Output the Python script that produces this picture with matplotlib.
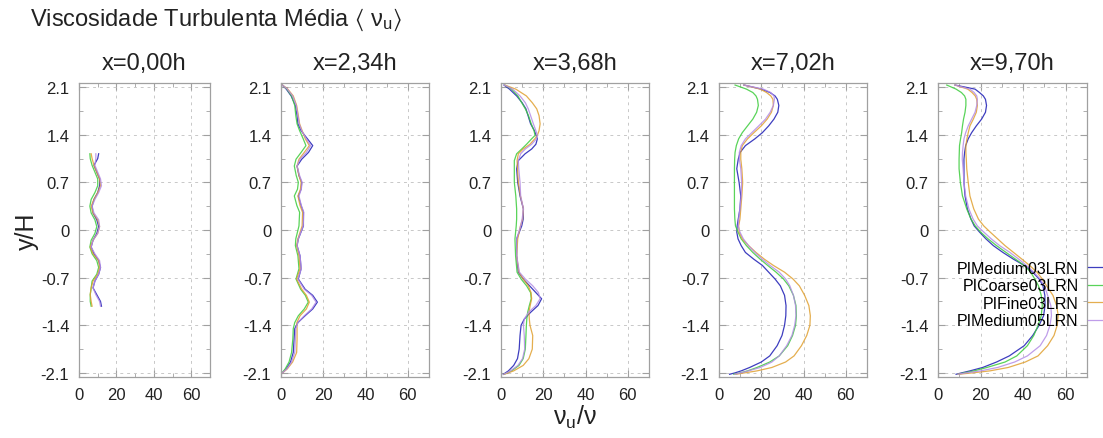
import matplotlib.pyplot as plt
from matplotlib.ticker import MultipleLocator

plt.rcParams["font.family"] = ["Liberation Sans", "DejaVu Sans"]
plt.rcParams["mathtext.fontset"] = "custom"
plt.rcParams["mathtext.rm"] = "Liberation Sans"
plt.rcParams["mathtext.it"] = "Liberation Sans"
plt.rcParams["mathtext.default"] = "regular"

# series names and colours
series = ["PIMedium03LRN", "PICoarse03LRN", "PIFine03LRN", "PIMedium05LRN"]
colors = ["#1c1cb4", "#3ccc3c", "#e0a030", "#b48ce6"]
titles = ["x=0,00h", "x=2,34h", "x=3,68h", "x=7,02h", "x=9,70h"]

# x = 0,00h
y1 = [1.12, 1.05, 0.95, 0.85, 0.75, 0.65, 0.55, 0.45, 0.35, 0.25, 0.15, 0.05,
      -0.05, -0.15, -0.25, -0.35, -0.45, -0.55, -0.65, -0.75, -0.85, -0.95, -1.05, -1.12]
medium03_1 = [10.5, 10.0, 8.0, 9.5, 11.0, 11.0, 10.0, 8.0, 7.0, 7.5, 9.5, 10.5,
              9.5, 7.5, 6.5, 8.0, 10.5, 11.5, 10.5, 8.5, 7.5, 9.5, 11.5, 12.0]
coarse03_1 = [5.8, 6.0, 7.0, 8.5, 10.0, 10.0, 8.5, 6.5, 5.8, 6.5, 8.5, 9.5,
              8.5, 6.5, 5.8, 7.0, 9.5, 10.5, 9.5, 7.0, 6.5, 6.0, 6.0, 6.5]
fine03_1 = [6.5, 7.0, 8.0, 9.5, 11.0, 11.5, 10.0, 8.0, 6.5, 7.5, 10.0, 11.0,
            10.0, 7.5, 6.0, 7.5, 10.5, 11.0, 10.0, 7.5, 6.5, 6.0, 6.5, 7.0]
medium05_1 = [9.0, 9.0, 8.5, 10.0, 11.5, 12.0, 10.5, 8.5, 7.0, 8.0, 10.5, 11.0,
              10.0, 7.5, 6.5, 8.5, 11.0, 11.5, 10.5, 8.5, 7.5, 9.0, 11.0, 11.5]

# x = 2,34h
y2 = [2.14, 2.07, 1.97, 1.83, 1.68, 1.56, 1.46, 1.34, 1.24, 1.14, 1.04, 0.94,
      0.80, 0.70, 0.60, 0.50, 0.36, 0.26, 0.06, -0.13, -0.23, -0.38, -0.57, -0.72,
      -0.87, -0.96, -1.06, -1.16, -1.26, -1.36, -1.45, -1.60, -1.80, -1.94, -2.04, -2.11]
medium03_2 = [0.3, 2.5, 4.8, 6.8, 7.6, 8.0, 9.5, 12.5, 15.0, 13.0, 9.8, 7.6,
              8.5, 9.8, 9.5, 8.2, 9.5, 10.6, 10.6, 8.2, 7.6, 9.0, 9.5, 8.2,
              11.4, 15.0, 17.2, 15.0, 11.4, 8.0, 6.5, 6.2, 5.8, 4.5, 2.5, 0.3]
coarse03_2 = [0.3, 2.8, 5.0, 6.5, 7.0, 7.6, 8.8, 10.5, 11.8, 9.5, 7.1, 6.3,
              7.2, 8.2, 7.8, 6.3, 7.5, 8.8, 8.5, 7.0, 6.8, 8.0, 8.5, 7.1,
              9.3, 11.5, 12.9, 11.0, 8.2, 6.5, 5.8, 5.6, 5.0, 3.8, 2.0, 0.3]
fine03_2 = [0.3, 3.2, 5.8, 7.4, 8.2, 8.8, 10.0, 11.5, 13.4, 11.0, 8.5, 7.6,
            8.5, 9.5, 9.2, 8.0, 9.0, 10.2, 10.0, 8.0, 7.4, 8.5, 9.0, 7.4,
            9.8, 12.0, 13.4, 12.0, 9.0, 7.5, 7.6, 7.6, 7.4, 5.5, 3.0, 0.3]
medium05_2 = [0.3, 3.0, 5.5, 7.2, 8.0, 8.6, 9.8, 12.0, 14.0, 12.0, 9.0, 7.6,
              8.8, 10.0, 9.6, 8.5, 9.6, 10.8, 10.5, 8.2, 7.6, 9.0, 9.6, 8.0,
              11.0, 14.5, 16.6, 14.5, 11.0, 8.0, 7.0, 6.8, 6.5, 5.0, 2.8, 0.3]

# x = 3,68h
y3 = [2.13, 2.07, 1.97, 1.87, 1.78, 1.68, 1.56, 1.46, 1.39, 1.34, 1.26, 1.19,
      1.12, 1.02, 0.90, 0.70, 0.50, 0.31, 0.16, 0.06, -0.13, -0.38, -0.62, -0.72,
      -0.82, -0.92, -1.01, -1.11, -1.21, -1.31, -1.40, -1.55, -1.75, -1.89, -1.99,
      -2.07, -2.12]
medium03_3 = [1.4, 4.0, 7.4, 10.0, 11.8, 12.8, 14.0, 15.8, 16.6, 17.2, 16.5, 14.5,
              11.4, 8.2, 7.4, 7.9, 9.0, 10.6, 10.5, 9.8, 7.4, 7.4, 8.2, 10.5,
              13.5, 16.5, 19.2, 17.5, 14.0, 11.0, 9.5, 9.0, 8.6, 7.8, 6.0, 3.5, 1.1]
coarse03_3 = [1.8, 5.0, 8.0, 9.8, 11.5, 13.0, 14.3, 15.6, 16.1, 14.5, 12.1, 9.8,
              7.4, 6.3, 6.3, 6.3, 7.0, 7.4, 7.4, 7.2, 6.6, 6.9, 7.6, 9.5,
              12.1, 14.0, 14.3, 13.4, 12.6, 12.2, 12.0, 11.8, 11.5, 10.5, 8.5, 5.0, 1.4]
fine03_3 = [1.8, 7.0, 12.0, 14.8, 16.9, 18.0, 18.5, 18.0, 17.2, 16.0, 13.7, 10.5,
            8.2, 7.6, 7.8, 8.2, 9.2, 10.6, 10.2, 9.2, 7.9, 7.4, 8.5, 10.5,
            12.9, 14.2, 14.5, 13.8, 13.2, 13.4, 13.7, 15.0, 14.8, 13.2, 10.5, 6.0, 1.5]
medium05_3 = [1.6, 5.5, 9.0, 11.5, 12.9, 14.0, 15.3, 16.5, 17.2, 16.8, 14.5, 11.5,
              9.3, 8.2, 8.4, 9.0, 9.3, 10.6, 10.0, 9.3, 7.4, 7.4, 8.7, 11.5,
              15.0, 17.7, 18.5, 16.5, 13.0, 11.0, 10.6, 11.0, 11.2, 10.2, 8.0, 4.5, 1.3]

# x = 7,02h and x = 9,70h share the same y stations
y45 = [2.13, 2.07, 2.02, 1.97, 1.92, 1.83, 1.73, 1.63, 1.53, 1.43, 1.34, 1.24,
       1.14, 1.04, 0.90, 0.70, 0.50, 0.31, 0.16, 0.06, -0.03, -0.13, -0.23, -0.33,
       -0.43, -0.52, -0.62, -0.72, -0.82, -0.96, -1.11, -1.26, -1.40, -1.55, -1.70,
       -1.85, -1.94, -2.02, -2.07, -2.10, -2.12]
medium03_4 = [11.8, 20.0, 24.1, 26.5, 27.6, 28.3, 27.8, 26.0, 23.5, 20.5, 17.0, 12.5,
              10.0, 9.1, 8.4, 9.5, 10.3, 9.9, 9.1, 8.6, 8.4, 9.0, 10.5, 12.5,
              16.5, 20.5, 23.5, 26.5, 29.0, 31.0, 31.7, 31.6, 31.0, 29.8, 27.5,
              24.0, 20.0, 14.5, 10.5, 7.5, 5.0]
coarse03_4 = [7.6, 13.0, 16.0, 17.5, 18.2, 18.6, 17.8, 16.0, 13.5, 11.0, 9.3, 8.2,
              7.6, 7.4, 7.3, 7.3, 7.3, 7.3, 7.5, 7.8, 9.0, 10.5, 13.0, 16.0,
              19.5, 23.0, 27.0, 30.5, 33.0, 35.2, 36.4, 36.6, 36.2, 34.8, 32.5,
              28.5, 24.0, 18.0, 13.5, 10.0, 7.0]
fine03_4 = [11.8, 19.5, 22.5, 24.5, 25.5, 25.7, 24.8, 22.8, 20.0, 16.5, 13.5, 11.0,
            10.3, 10.3, 10.8, 11.2, 10.8, 10.3, 9.9, 9.3, 9.5, 11.0, 14.0, 17.5,
            21.5, 25.7, 31.0, 35.0, 38.0, 40.5, 42.5, 43.2, 43.0, 41.5, 39.0,
            35.5, 31.5, 25.0, 18.0, 12.0, 8.0]
medium05_4 = [11.8, 21.0, 24.5, 26.0, 26.2, 25.7, 24.2, 22.0, 18.8, 15.5, 12.5, 10.5,
              9.6, 9.6, 10.3, 10.7, 10.5, 9.9, 9.3, 9.1, 9.9, 11.5, 14.0, 17.0,
              20.5, 24.1, 28.5, 31.5, 33.5, 35.2, 36.2, 36.4, 35.8, 34.5, 32.0,
              28.5, 25.0, 19.5, 14.0, 10.0, 7.5]
medium03_5 = [8.0, 17.4, 19.5, 21.3, 22.3, 22.8, 22.3, 20.5, 18.0, 15.8, 14.2, 13.0,
              12.5, 12.2, 12.2, 12.2, 12.7, 13.8, 15.5, 17.0, 19.5, 22.5, 26.0, 30.5,
              35.5, 40.5, 44.5, 47.5, 49.3, 50.2, 50.3, 49.6, 47.5, 44.5, 40.5,
              33.5, 27.5, 21.0, 15.0, 11.0, 8.5]
coarse03_5 = [4.1, 8.5, 11.0, 12.5, 13.1, 13.1, 12.7, 12.0, 11.5, 11.1, 10.6, 10.1,
              10.0, 9.9, 9.9, 10.5, 11.5, 13.5, 15.5, 17.5, 20.0, 23.5, 27.5, 32.0,
              36.5, 40.5, 43.5, 45.5, 47.2, 48.5, 49.0, 48.5, 47.0, 45.0, 42.0,
              37.0, 31.5, 23.0, 17.0, 12.0, 9.5]
fine03_5 = [8.0, 14.0, 16.0, 17.5, 18.2, 18.5, 18.0, 16.6, 15.0, 14.2, 13.6, 13.1,
            13.1, 13.3, 13.5, 14.2, 15.0, 16.8, 19.0, 21.5, 24.5, 28.0, 31.5, 35.5,
            39.5, 43.0, 46.5, 49.0, 51.0, 54.0, 55.7, 56.5, 56.0, 54.5, 51.5,
            47.0, 41.0, 33.0, 24.4, 16.0, 9.5]
medium05_5 = [8.0, 15.0, 17.0, 18.2, 18.5, 18.2, 17.4, 15.8, 14.2, 13.0, 12.2, 11.8,
              11.5, 11.4, 11.8, 12.2, 13.0, 14.5, 16.5, 18.5, 21.5, 25.0, 29.0, 33.8,
              38.0, 41.5, 45.0, 48.0, 50.0, 51.5, 53.0, 53.3, 52.6, 51.0, 48.0,
              42.0, 36.0, 28.0, 20.0, 13.0, 9.5]

panels = [
    (y1, [medium03_1, coarse03_1, fine03_1, medium05_1]),
    (y2, [medium03_2, coarse03_2, fine03_2, medium05_2]),
    (y3, [medium03_3, coarse03_3, fine03_3, medium05_3]),
    (y45, [medium03_4, coarse03_4, fine03_4, medium05_4]),
    (y45, [medium03_5, coarse03_5, fine03_5, medium05_5]),
]

W, H = 1103, 439
fig = plt.figure(figsize=(W / 100, H / 100), dpi=100)

# axes frames in pixels: (left, right)
frames = [(79, 210), (281, 429), (501, 649), (719, 867), (938, 1087)]
top, bottom = 84, 378

frame_col = "#a0a0a0"
text_col = "#222222"

axes = []
for i, ((x0, x1), (yv, xs)) in enumerate(zip(frames, panels)):
    ax = fig.add_axes([x0 / W, 1 - bottom / H, (x1 - x0) / W, (bottom - top) / H])
    for xv, c, name in zip(xs, colors, series):
        ax.plot(xv, yv, color=c, lw=0.9, alpha=0.85, label=name)

    ax.set_xlim(0, 70)
    ax.set_ylim(-2.16, 2.16)
    ax.xaxis.set_major_locator(MultipleLocator(20))
    ax.xaxis.set_minor_locator(MultipleLocator(10))
    ax.set_yticks([2.1, 1.4, 0.7, 0, -0.7, -1.4, -2.1])
    ax.set_yticklabels(["2.1", "1.4", "0.7", "0", "-0.7", "-1.4", "-2.1"])
    ax.set_xticks([0, 20, 40, 60])
    ax.set_yticks([1.75, 1.05, 0.35, -0.35, -1.05, -1.75], minor=True)
    ax.tick_params(which="both", direction="in", top=True, right=True,
                   color=frame_col, labelsize=12, labelcolor=text_col, pad=7)
    ax.tick_params(which="major", length=5)
    ax.tick_params(which="minor", length=3)
    for s in ax.spines.values():
        s.set_color(frame_col)
        s.set_linewidth(0.9)
    ax.grid(True, which="major", color="#c8c8c8", lw=0.7, linestyle=(0, (3, 4)))
    ax.set_axisbelow(True)
    ax.set_title(titles[i], fontsize=17, color=text_col, pad=10)
    axes.append(ax)

axes[0].set_ylabel("y/H", fontsize=18, color=text_col, labelpad=1)
axes[2].set_xlabel(r"$\nu_u/\nu$", fontsize=18, color=text_col, labelpad=1)

fig.text(30 / W, 1 - 20 / H, r"Viscosidade Turbulenta Média $\langle$ $\nu_u$$\rangle$",
         fontsize=17, color=text_col, va="center", ha="left")

axes[4].legend(loc="upper right", bbox_to_anchor=(1120 / W, 1 - 262 / H),
               bbox_transform=fig.transFigure, frameon=False, markerfirst=False,
               fontsize=11.5, handlelength=2.0, handletextpad=0.6,
               labelspacing=0.15, borderpad=0, borderaxespad=0)

plt.savefig("out.png", dpi=100)
